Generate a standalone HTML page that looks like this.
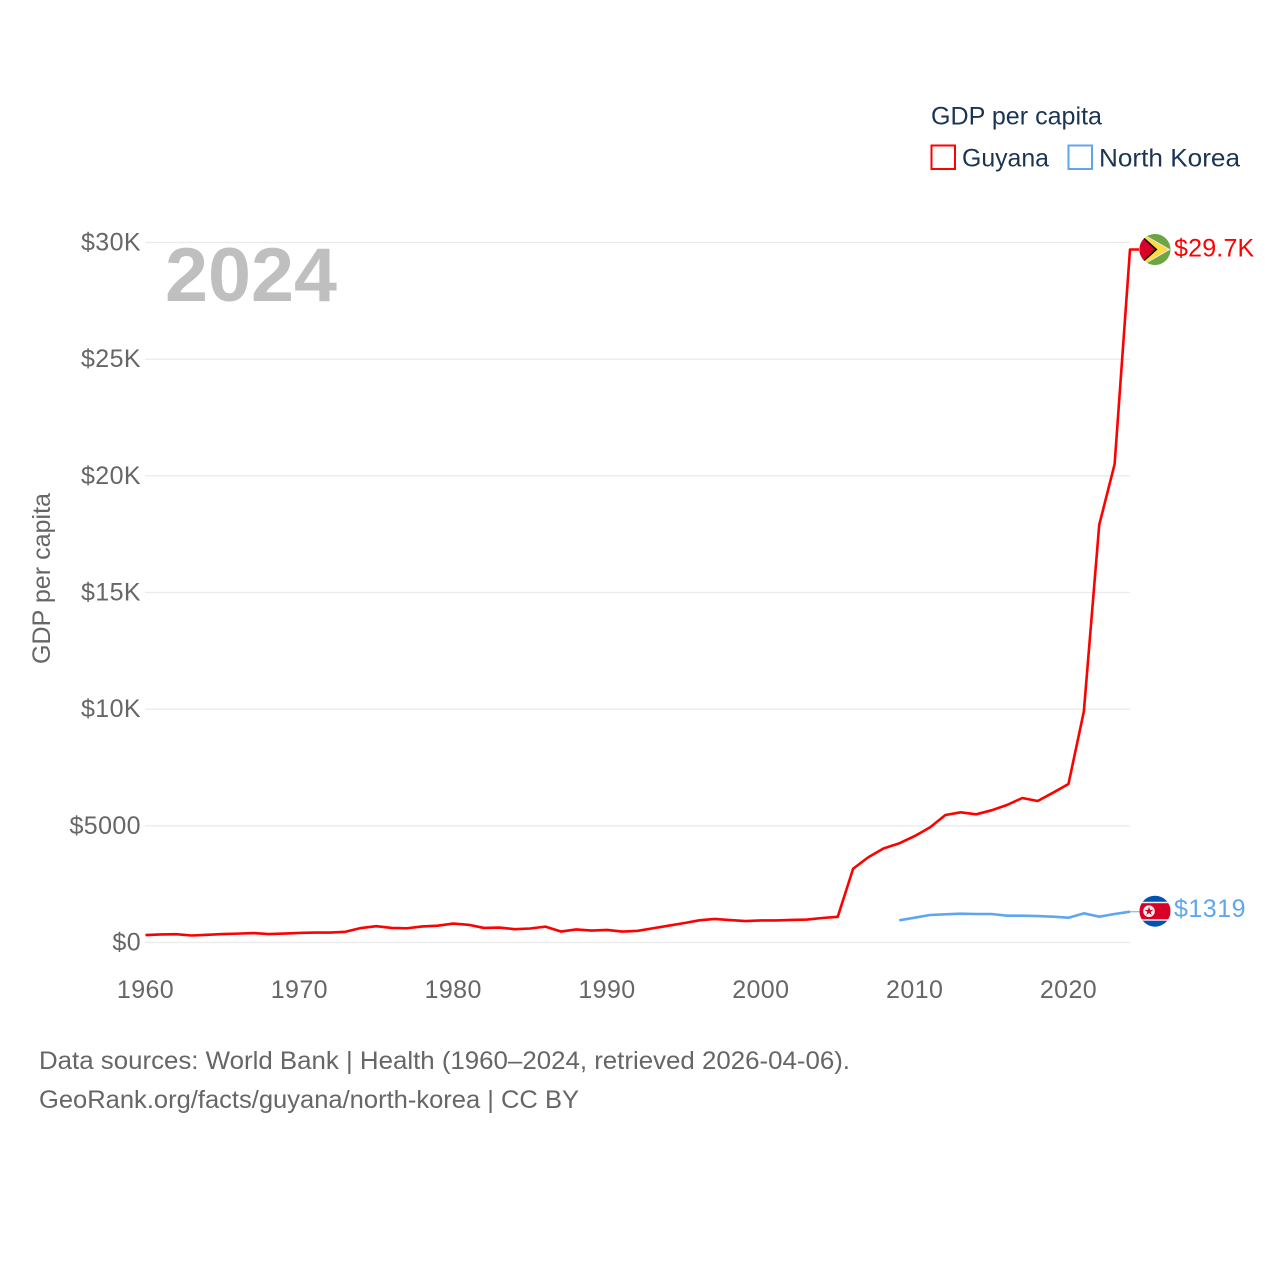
<!DOCTYPE html>
<html lang="en">
<head>
<meta charset="utf-8">
<title>GDP per capita: Guyana and North Korea</title>
<style>
html,body{margin:0;padding:0;background:#fff;}
svg{display:block;font-family:"Liberation Sans",sans-serif;}
</style>
</head>
<body>
<svg id="chart" width="1280" height="1280" viewBox="0 0 1280 1280" xmlns="http://www.w3.org/2000/svg">
  <defs>
    <clipPath id="flag-clip-a"><circle cx="0" cy="0" r="15.5"/></clipPath>
  </defs>
  <g id="grid"></g>
  <g id="y-ticks"></g>
  <g id="x-ticks"></g>
  <text transform="translate(50,664) rotate(-90)" font-size="25" fill="#666" textLength="171" lengthAdjust="spacingAndGlyphs">GDP per capita</text>
  <text x="165" y="301" font-size="76" font-weight="bold" fill="#bfbfbf" textLength="172" lengthAdjust="spacingAndGlyphs">2024</text>

  <g id="series"></g>

  <g id="flag-guyana">
    <g clip-path="url(#flag-clip-a)">
      <rect x="-16" y="-16" width="32" height="32" fill="#6da544"/>
      <polygon points="-16,-18 15.5,0 -16,18" fill="#e8e8e8"/>
      <polygon points="-16,-17 13.5,0 -16,17" fill="#ffda44"/>
      <polygon points="-16,-16.5 2.5,0 -16,16.5" fill="#000"/>
      <polygon points="-16,-15 0,0 -16,15" fill="#d80027"/>
    </g>
  </g>
  <g id="flag-nk">
    <g clip-path="url(#flag-clip-a)">
      <rect x="-16" y="-16" width="32" height="32" fill="#0052b4"/>
      <rect x="-16" y="-9.5" width="32" height="19" fill="#f0f0f0"/>
      <rect x="-16" y="-8" width="32" height="16" fill="#d80027"/>
      <circle cx="-6" cy="0" r="5.8" fill="#f0f0f0"/>
      <polygon points="-6,-4.6 -4.9,-1.4 -1.6,-1.4 -4.3,0.6 -3.3,3.8 -6,1.8 -8.7,3.8 -7.7,0.6 -10.4,-1.4 -7.1,-1.4" fill="#d80027"/>
    </g>
  </g>
  <text id="label-guyana" x="1174" font-size="25" fill="#ff0000" letter-spacing="0.2"></text>
  <text id="label-nk" x="1174" font-size="25" fill="#5fa6ee" letter-spacing="0.5"></text>

  <g>
    <text x="931" y="124.5" font-size="25" fill="#1b3454" textLength="171" lengthAdjust="spacingAndGlyphs">GDP per capita</text>
    <rect x="931.5" y="145.5" width="23.5" height="23.5" fill="#fff" stroke="#ff0000" stroke-width="2"/>
    <text x="962" y="166.5" font-size="25" fill="#1b3454" textLength="87" lengthAdjust="spacingAndGlyphs">Guyana</text>
    <rect x="1068.5" y="145.5" width="23.5" height="23.5" fill="#fff" stroke="#5fa6ee" stroke-width="2"/>
    <text x="1099" y="166.5" font-size="25" fill="#1b3454" textLength="141" lengthAdjust="spacingAndGlyphs">North Korea</text>
  </g>

  <text x="39" y="1069" font-size="25" fill="#666" textLength="811" lengthAdjust="spacingAndGlyphs">Data sources: World Bank | Health (1960–2024, retrieved 2026-04-06).</text>
  <text x="39" y="1108" font-size="25" fill="#666" textLength="540" lengthAdjust="spacingAndGlyphs">GeoRank.org/facts/guyana/north-korea | CC BY</text>
</svg>
<script>
const guyanaYears = [1960,1961,1962,1963,1964,1965,1966,1967,1968,1969,1970,1971,1972,1973,1974,1975,1976,1977,1978,1979,1980,1981,1982,1983,1984,1985,1986,1987,1988,1989,1990,1991,1992,1993,1994,1995,1996,1997,1998,1999,2000,2001,2002,2003,2004,2005,2006,2007,2008,2009,2010,2011,2012,2013,2014,2015,2016,2017,2018,2019,2020,2021,2022,2023,2024];
const guyanaValues = [320,345,355,300,330,360,380,405,360,385,410,425,425,460,620,700,625,610,690,720,810,760,625,640,570,600,680,470,560,510,540,470,500,610,720,830,950,1010,960,920,945,945,965,985,1050,1100,3160,3660,4037,4250,4560,4935,5465,5580,5494,5665,5893,6193,6064,6420,6793,9900,17900,20500,29700];
const koreaYears = [2009,2010,2011,2012,2013,2014,2015,2016,2017,2018,2019,2020,2021,2022,2023,2024];
const koreaValues = [950,1063,1178,1208,1234,1221,1221,1149,1149,1135,1107,1063,1250,1107,1220,1319];
const yTickValues = [0,5000,10000,15000,20000,25000,30000];
const yTickLabels = ["$0","$5000","$10K","$15K","$20K","$25K","$30K"];
const xTickValues = [1960,1970,1980,1990,2000,2010,2020];
const xTickLabels = ["1960","1970","1980","1990","2000","2010","2020"];

const SVG_NS = "http://www.w3.org/2000/svg";
function xScale(year){ return 145.5 + (year - 1960) * (1130 - 145.5) / 64; }
function yScale(v){ return 942.5 - v * 700 / 30000; }
function formatValue(v){ return v >= 10000 ? "$" + (v / 1000).toFixed(1) + "K" : "$" + Math.round(v); }

const gridGroup = document.getElementById("grid");
const yTickGroup = document.getElementById("y-ticks");
yTickValues.forEach(function(v, i){
  const line = document.createElementNS(SVG_NS, "line");
  
  
  line.setAttribute("x1", 145);
  line.setAttribute("x2", 1130);
  line.setAttribute("y1", yScale(v));
  line.setAttribute("y2", yScale(v));
  line.setAttribute("stroke", "#ebebeb");
  line.setAttribute("stroke-width", "1.3");
  gridGroup.appendChild(line);
  const t = document.createElementNS(SVG_NS, "text");
  
  
  t.setAttribute("x", 141);
  t.setAttribute("y", yScale(v) + 8);
  t.setAttribute("text-anchor", "end");
  t.setAttribute("font-size", "25");
  t.setAttribute("fill", "#666");
  t.setAttribute("letter-spacing", "0.4");
  t.textContent = yTickLabels[i];
  yTickGroup.appendChild(t);
});

const xTickGroup = document.getElementById("x-ticks");
xTickValues.forEach(function(y, i){
  const t = document.createElementNS(SVG_NS, "text");
  
  
  t.setAttribute("x", xScale(y));
  t.setAttribute("y", 998);
  t.setAttribute("text-anchor", "middle");
  t.setAttribute("font-size", "25");
  t.setAttribute("fill", "#666");
  t.setAttribute("letter-spacing", "0.4");
  t.textContent = xTickLabels[i];
  xTickGroup.appendChild(t);
});

const seriesGroup = document.getElementById("series");

const guyanaPoints = guyanaYears.map(function(y, i){ return xScale(y).toFixed(2) + "," + yScale(guyanaValues[i]).toFixed(2); });
const guyanaLast = guyanaValues[guyanaValues.length - 1];
guyanaPoints.push("1139," + yScale(guyanaLast).toFixed(2));
const guyanaLine = document.createElementNS(SVG_NS, "polyline");


guyanaLine.setAttribute("points", guyanaPoints.join(" "));
guyanaLine.setAttribute("fill", "none");
guyanaLine.setAttribute("stroke", "#ff0000");
guyanaLine.setAttribute("stroke-width", "2.6");
guyanaLine.setAttribute("stroke-linejoin", "round");
seriesGroup.appendChild(guyanaLine);

const koreaPoints = koreaYears.map(function(y, i){ return xScale(y).toFixed(2) + "," + yScale(koreaValues[i]).toFixed(2); });
const koreaLine = document.createElementNS(SVG_NS, "polyline");


koreaLine.setAttribute("points", koreaPoints.join(" "));
koreaLine.setAttribute("fill", "none");
koreaLine.setAttribute("stroke", "#5fa6ee");
koreaLine.setAttribute("stroke-width", "2.6");
koreaLine.setAttribute("stroke-linejoin", "round");
seriesGroup.appendChild(koreaLine);

const koreaLast = koreaValues[koreaValues.length - 1];
const koreaConnector = document.createElementNS(SVG_NS, "line");


koreaConnector.setAttribute("x1", 1130);
koreaConnector.setAttribute("x2", 1140);
koreaConnector.setAttribute("y1", yScale(koreaLast));
koreaConnector.setAttribute("y2", yScale(koreaLast));
koreaConnector.setAttribute("stroke", "#8fb4d8");
koreaConnector.setAttribute("stroke-width", "1.2");
seriesGroup.appendChild(koreaConnector);

const guyanaY = yScale(guyanaLast);
const koreaY = yScale(koreaLast);
document.getElementById("flag-guyana").setAttribute("transform", "translate(1155," + guyanaY + ")");
document.getElementById("flag-nk").setAttribute("transform", "translate(1155," + (koreaY - 0.5) + ")");
const labelG = document.getElementById("label-guyana");
labelG.setAttribute("y", guyanaY + 7);
labelG.textContent = formatValue(guyanaLast);
const labelK = document.getElementById("label-nk");
labelK.setAttribute("y", koreaY + 5.5);
labelK.textContent = formatValue(koreaLast);
</script>
</body>
</html>
